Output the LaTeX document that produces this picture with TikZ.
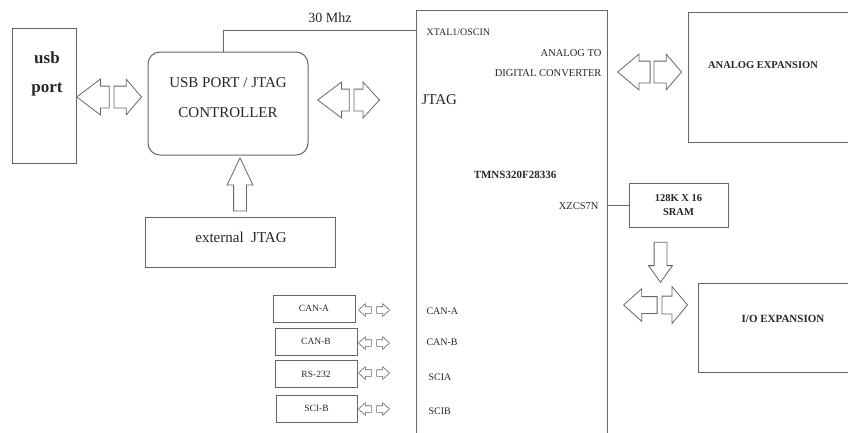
\documentclass[tikz,border=0pt]{standalone}
\usepackage{fontspec}
\setmainfont{Liberation Serif}
\usepackage{tikz}
\usetikzlibrary{shapes.arrows}
\tikzset{
  >=latex,
  x=1pt, y=-1pt,
}
\tikzstyle{box}=[draw=black!60, line width=1pt, inner sep=0pt]
\tikzstyle{blk}=[single arrow, draw=black!60, line width=0.8pt, fill=white, anchor=tip]
\tikzstyle{hblk}=[blk, inner xsep=0pt]
\tikzstyle{vblk}=[blk, inner ysep=0pt]
\tikzstyle{every node}=[text=black!85]
\newcommand{\fs}[2]{\fontsize{#1}{#2}\selectfont}

\begin{document}
\begin{tikzpicture}
    \useasboundingbox (0,0) rectangle (848,432);
    \clip (0,0) rectangle (848,432);
    % blocks
    \node[box, minimum width=64, minimum height=135] (usb) at (44,95.5) {};
    \node[font=\fs{17}{29}\bfseries, align=center] (usbtxt) at (47,74) {usb\\port};
    \node[box, rounded corners=12, minimum width=160, minimum height=103] (ctrl) at (228,103.5) {};
    \node[font=\fs{15}{30}, align=center] (ctrltxt) at (228,98) {USB PORT / JTAG\\CONTROLLER};
    \node[box, minimum width=190, minimum height=50] (ext) at (240,242) {};
    \node[font=\fs{15}{18}] (exttxt) at (241,237) {external\ \ JTAG};
    \node[box, minimum width=191, minimum height=440] (mcu) at (511.5,230) {};
    \node[box, minimum width=182, minimum height=130] (ana) at (779,77) {};
    \node[font=\fs{10.5}{12}\bfseries] (anatxt) at (763,65) {ANALOG EXPANSION};
    \node[box, minimum width=172, minimum height=89] (io) at (784,327.5) {};
    \node[font=\fs{11}{12}\bfseries] (iotxt) at (783,319) {I/O EXPANSION};
    \node[box, minimum width=99, minimum height=44, align=center, font=\fs{10.5}{14}\bfseries] (sram) at (678.5,205) {128K X 16\\SRAM};
    % serial ports
    \node[box, minimum width=82, minimum height=27, font=\fs{9.5}{11}] (cana) at (314,308.5) {CAN-A};
    \node[box, minimum width=82, minimum height=27, font=\fs{9.5}{11}] (canb) at (316,341.5) {CAN-B};
    \node[box, minimum width=82, minimum height=27, font=\fs{9.5}{11}] (rs) at (316,374) {RS-232};
    \node[box, minimum width=81, minimum height=27, font=\fs{9.5}{11}] (scib) at (316.5,408.5) {SCI-B};
    % mcu pins
    \node[anchor=west, font=\fs{10}{12}] (xtal) at (423,32) {XTAL1/OSCIN};
    \node[anchor=east, align=right, font=\fs{10.5}{20}] (adc) at (605,63) {ANALOG TO\\DIGITAL CONVERTER};
    \node[anchor=west, font=\fs{15}{18}] (jtag) at (418,100) {JTAG};
    \node[font=\fs{11}{12}\bfseries] (chip) at (515,175) {TMNS320F28336};
    \node[anchor=east, font=\fs{10.5}{12}] (xzcs) at (602,206) {XZCS7N};
    \node[anchor=west, font=\fs{10}{12}] (pa) at (423,311) {CAN-A};
    \node[anchor=west, font=\fs{10}{12}] (pb) at (423,342) {CAN-B};
    \node[anchor=west, font=\fs{10}{12}] (pc) at (425,377) {SCIA};
    \node[anchor=west, font=\fs{10}{12}] (pd) at (425,411) {SCIB};
    % clock and memory lines
    \coordinate (clk) at (223,30);
    \draw[black!60, line width=1pt] (ctrl.north -| clk) |- (mcu.west |- clk);
    \node[font=\fs{14}{16}] (mhz) at (330,18) {30 Mhz};
    \draw[black!60, line width=1pt] (mcu.east |- sram) -- (sram.west);
    % block arrows
    \node[hblk, minimum height=32.5, inner ysep=10.5, single arrow head extend=7, single arrow tip angle=74, shape border rotate=180] (u1) at (76,97) {};
    \node[hblk, minimum height=27.5, inner ysep=10.5, single arrow head extend=7, single arrow tip angle=99] (u2) at (142,97) {};
    \node[hblk, minimum height=31.5, inner ysep=10.5, single arrow head extend=7, single arrow tip angle=74, shape border rotate=180] (c1) at (317,100) {};
    \node[hblk, minimum height=25.5, inner ysep=10.5, single arrow head extend=7, single arrow tip angle=95] (c2) at (380,100) {};
    \node[hblk, minimum height=32.5, inner ysep=10.5, single arrow head extend=7, single arrow tip angle=80, shape border rotate=180] (a1) at (617,72) {};
    \node[hblk, minimum height=27.5, inner ysep=10.5, single arrow head extend=7, single arrow tip angle=99] (a2) at (682,72) {};
    \node[hblk, minimum height=33.5, inner ysep=8, single arrow head extend=8, single arrow tip angle=84, shape border rotate=180] (i1) at (623,305) {};
    \node[hblk, minimum height=25.5, inner ysep=8.5, single arrow head extend=9.5, single arrow tip angle=100] (i2) at (688,305) {};
    \node[vblk, minimum height=53, inner xsep=6, single arrow head extend=6.5, single arrow tip angle=51, shape border rotate=90] (e1) at (240,157) {};
    \node[vblk, minimum height=40, inner xsep=6, single arrow head extend=5.5, single arrow tip angle=71, shape border rotate=270] (s1) at (660.5,283) {};
    \foreach \b/\y in {cana/310,canb/343,rs/373,scib/409}{
      \node[hblk, minimum height=13, inner ysep=3, single arrow head extend=3, single arrow tip angle=85, line width=0.6pt, shape border rotate=180] (\b l) at (358,\y) {};
      \node[hblk, minimum height=13, inner ysep=3, single arrow head extend=3, single arrow tip angle=85, line width=0.6pt] (\b r) at (390,\y) {};
    }
\end{tikzpicture}
\end{document}
